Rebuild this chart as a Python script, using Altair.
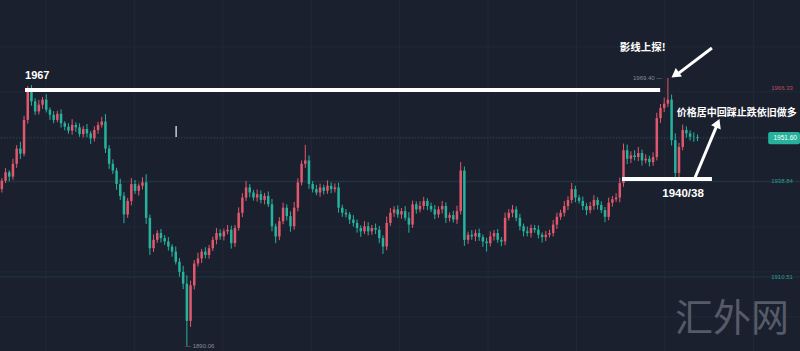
import altair as alt
import pandas as pd

# ---------------- data ----------------
first_open = 1936.5
closes = [
    1939.0, 1941.5, 1940.2, 1944.0, 1948.5, 1947.0, 1957.0, 1965.5, 1962.5, 1959.5,
    1961.5, 1963.0, 1960.0, 1958.5, 1957.0, 1958.8, 1956.0, 1955.0, 1953.8, 1955.5,
    1954.8, 1952.8, 1954.3, 1953.0, 1951.5, 1954.0, 1955.5, 1956.5, 1948.5, 1944.0,
    1942.0, 1938.0, 1934.5, 1929.0, 1933.0, 1938.0, 1936.0, 1937.5, 1938.5, 1928.0,
    1919.0, 1921.5, 1923.5, 1922.0, 1921.0, 1919.5, 1918.0, 1915.0, 1912.0, 1908.5,
    1897.5, 1908.0, 1914.5, 1916.0, 1918.0, 1917.0, 1919.0, 1921.5, 1923.5, 1922.5,
    1924.0, 1924.5, 1920.5, 1925.0, 1929.5, 1934.0, 1937.0, 1935.5, 1934.0, 1935.0,
    1933.3, 1934.5, 1932.0, 1925.5, 1922.5, 1927.0, 1931.0, 1928.5, 1925.5, 1931.0,
    1938.5, 1944.0, 1945.0, 1938.0, 1936.5, 1935.5, 1937.0, 1936.0, 1937.5, 1936.5,
    1937.0, 1931.0, 1929.5, 1929.0, 1927.5, 1926.5, 1925.0, 1924.0, 1925.5, 1924.0,
    1925.0, 1924.5, 1922.0, 1919.5, 1926.5, 1929.5, 1930.5, 1929.0, 1930.0, 1928.0,
    1926.0, 1932.0, 1930.5, 1931.5, 1933.0, 1931.5, 1930.5, 1929.0, 1930.5, 1931.5,
    1928.0, 1928.8, 1927.5, 1930.0, 1942.0, 1921.5, 1923.0, 1922.5, 1923.5, 1922.3,
    1921.0, 1920.5, 1922.5, 1923.5, 1921.5, 1921.0, 1928.0, 1929.5, 1930.5, 1928.0,
    1925.5, 1924.0, 1923.5, 1925.0, 1924.5, 1923.0, 1922.3, 1923.0, 1923.5, 1926.0,
    1928.3, 1929.5, 1931.5, 1933.3, 1936.5, 1934.0, 1933.0, 1931.5, 1930.3, 1931.5,
    1933.3, 1931.8, 1930.3, 1928.3, 1932.5, 1933.5, 1934.0, 1938.3, 1948.0, 1945.5,
    1946.5, 1946.0, 1947.2, 1945.0, 1945.5, 1944.5, 1946.0, 1957.5, 1960.5, 1961.8,
    1963.0, 1951.0, 1941.3, 1949.0, 1954.0, 1953.0, 1952.0, 1951.9, 1951.6,
]
upper_wicks = [
    0.8, 1.2, 0.6, 1.5, 1.0, 2.0, 1.2, 1.5, 1.8, 0.9,
    1.4, 0.8, 1.6, 0.7, 1.1, 0.9, 1.3, 0.6, 1.0, 1.7,
    0.8, 1.2, 0.9, 1.5, 0.7, 1.1, 0.9, 1.4, 2.2, 1.0,
    1.3, 0.8, 1.6, 1.1, 0.9, 1.8, 1.2, 0.7, 1.5, 2.4,
    1.0, 1.6, 0.8, 1.2, 0.9, 1.3, 0.7, 1.5, 1.1, 1.8,
    2.5, 1.4, 1.0, 1.7, 0.8, 1.3, 1.0, 0.9, 1.5, 1.1,
    0.8, 1.4, 1.2, 0.9, 1.6, 1.3, 1.9, 1.0, 0.8, 1.4,
    1.1, 0.9, 1.3, 1.6, 0.8, 1.2, 1.5, 1.0, 1.4, 1.7,
    1.2, 1.0, 4.6, 1.5, 0.9, 1.3, 1.1, 0.8, 1.6, 1.0,
    1.2, 1.4, 0.9, 1.1, 0.7, 1.3, 1.0, 0.8, 1.5, 1.2,
    0.9, 1.3, 1.1, 0.8, 1.9, 1.4, 1.0, 1.2, 0.9, 1.5,
    1.7, 1.1, 0.9, 1.4, 1.2, 0.8, 1.0, 1.3, 0.9, 1.5,
    1.1, 0.8, 1.3, 1.6, 2.5, 1.2, 0.9, 1.4, 1.0, 1.3,
    0.8, 1.1, 1.5, 0.9, 1.2, 0.8, 1.6, 1.1, 1.3, 0.9,
    1.2, 0.8, 1.4, 1.0, 0.9, 1.3, 0.7, 1.1, 1.0, 1.4,
    1.2, 0.9, 1.5, 1.1, 1.8, 1.0, 0.8, 1.3, 0.9, 1.2,
    1.4, 0.8, 1.1, 0.9, 1.5, 1.0, 1.3, 1.6, 2.0, 1.7,
    1.2, 1.5, 1.8, 1.0, 1.3, 0.9, 1.4, 1.6, 1.2, 1.8,
    6.4, 1.5, 2.0, 1.2, 1.6, 1.1, 0.9, 1.3, 0.8,
]
lower_wicks = [
    1.0, 0.7, 1.4, 0.9, 1.2, 1.6, 0.8, 1.1, 1.3, 1.0,
    0.9, 1.2, 0.8, 1.5, 1.0, 0.7, 1.3, 1.1, 0.9, 1.2,
    1.4, 0.8, 1.0, 1.2, 1.6, 0.9, 1.1, 0.8, 1.3, 1.5,
    1.0, 1.7, 1.2, 2.6, 1.0, 1.3, 0.9, 1.4, 1.1, 1.8,
    2.0, 1.1, 0.9, 1.3, 1.0, 1.2, 1.5, 0.8, 1.4, 1.6,
    7.4, 1.8, 1.2, 0.9, 1.4, 1.0, 1.1, 0.8, 1.3, 1.0,
    1.2, 0.9, 1.6, 1.1, 0.8, 1.3, 1.0, 1.4, 0.9, 1.2,
    1.0, 1.3, 0.8, 1.5, 2.0, 1.1, 0.9, 1.3, 1.6, 1.0,
    1.1, 0.9, 1.2, 1.4, 1.0, 0.8, 1.3, 1.1, 0.9, 1.2,
    1.0, 1.5, 1.2, 0.9, 1.3, 1.1, 1.4, 1.6, 0.8, 1.2,
    1.0, 1.3, 1.5, 2.2, 1.1, 0.9, 1.2, 1.0, 1.3, 0.8,
    2.4, 1.0, 1.3, 0.9, 1.1, 1.2, 0.8, 1.4, 1.0, 1.2,
    1.5, 1.1, 0.9, 1.3, 1.0, 1.8, 1.2, 1.0, 1.4, 1.1,
    1.6, 2.5, 1.0, 1.2, 0.9, 1.4, 1.1, 0.8, 1.3, 1.0,
    1.2, 1.5, 1.0, 1.3, 0.9, 1.1, 1.6, 1.2, 0.8, 1.0,
    1.3, 0.9, 1.1, 1.2, 1.0, 1.4, 0.8, 1.2, 1.5, 1.0,
    1.1, 1.3, 0.9, 1.6, 1.0, 1.2, 0.8, 1.4, 1.1, 1.6,
    1.3, 1.0, 1.2, 1.5, 0.9, 1.3, 1.1, 1.0, 1.4, 1.2,
    1.0, 1.6, 1.5, 1.2, 1.0, 1.3, 1.1, 1.4, 0.9,
]

grid_slots = [12.4, 36.3, 60.2, 84.1, 108.0, 131.9, 155.8, 179.7, 203.6]
grid_prices = [1978.6, 1965.3, 1951.9, 1938.6, 1925.3, 1912.0, 1898.7]
level_prices = [1938.84, 1910.51]
last_price = 1951.60
high_label = 1969.40
low_label = 1890.06
resistance = 1965.85   # "1967" line
support = 1939.5       # "1940/38" line

# ---------------- build table ----------------
opens = [first_open] + closes[:-1]
rows = []
for i, (o, c, u, l) in enumerate(zip(opens, closes, upper_wicks, lower_wicks)):
    rows.append(dict(slot=i + 0.5, open=o, close=c,
                     high=max(o, c) + u, low=min(o, c) - l,
                     dir="up" if c >= o else "down"))
df = pd.DataFrame(rows)

BG = "#1b202e"
RED = "#e0586c"
GREEN = "#26b29c"
GRID = "#222837"

xs = alt.Scale(domain=[0, 216.2], nice=False, zero=False)
ys = alt.Scale(domain=[1888.58, 1992.49], nice=False, zero=False)


def X(f):
    return alt.X(f, type="quantitative", scale=xs, axis=None)


def Y(f):
    return alt.Y(f, type="quantitative", scale=ys, axis=None)


color = alt.Color("dir:N", scale=alt.Scale(domain=["up", "down"], range=[RED, GREEN]), legend=None)

vgrid = alt.Chart(pd.DataFrame({"s": grid_slots})).mark_rule(color=GRID, strokeWidth=1).encode(x=X("s"))
hgrid = alt.Chart(pd.DataFrame({"p": grid_prices})).mark_rule(color=GRID, strokeWidth=1).encode(y=Y("p"))
levels = alt.Chart(pd.DataFrame({"p": level_prices})).mark_rule(
    color="#2a8f86", strokeWidth=1, opacity=0.22).encode(y=Y("p"))
lastline = alt.Chart(pd.DataFrame({"p": [last_price]})).mark_rule(
    color=GREEN, strokeWidth=1, opacity=0.3, strokeDash=[1, 2]).encode(y=Y("p"))

wicks = alt.Chart(df).mark_rule(strokeWidth=1).encode(x=X("slot"), y=Y("low"), y2="high", color=color)
bodies = alt.Chart(df).mark_rule(strokeWidth=2.5, strokeCap="butt").encode(
    x=X("slot"), y=Y("open"), y2="close", color=color)

# annotation lines
hlines = pd.DataFrame({
    "x1": [6.76, 168.1], "x2": [178.4, 192.4], "y": [resistance, support]})
hline_layer = alt.Chart(hlines).mark_rule(color="white", strokeWidth=4, strokeCap="butt").encode(
    x=X("x1"), x2="x2", y=Y("y"))

arrows = pd.DataFrame({
    "x1": [192.4, 187.8], "x2": [182.9, 193.6],
    "y1": [1978.3, 1939.8], "y2": [1970.4, 1955.0]})
arrow_layer = alt.Chart(arrows).mark_rule(color="white", strokeWidth=3).encode(
    x=X("x1"), x2="x2", y=Y("y1"), y2="y2")
heads = pd.DataFrame({"x": [182.8, 193.8], "y": [1970.6, 1955.6], "a": [234, 23]})
head_layer = alt.Chart(heads).mark_point(shape="triangle", filled=True, color="white",
                                         opacity=1, size=110).encode(
    x=X("x"), y=Y("y"), angle=alt.Angle("a:Q", scale=None))

cursor = alt.Chart(pd.DataFrame({"x": [47.6], "y1": [1955.2], "y2": [1951.9]})).mark_rule(
    color="#c9ccd3", strokeWidth=1.5).encode(x=X("x"), y=Y("y1"), y2="y2")


def txt(x, y, t, **kw):
    return alt.Chart(pd.DataFrame({"x": [x], "y": [y], "t": [t]})).mark_text(**kw).encode(
        x=X("x"), y=Y("y"), text="t:N")


LAT = "Liberation Sans"
CJK = "Noto Sans CJK SC"

texts = [
    txt(6.76, 1970.0, "1967", align="left", baseline="middle", font=LAT, fontSize=11,
        fontWeight="bold", color="white"),
    txt(184.6, 1935.2, "1940/38", align="center", baseline="middle", font=LAT, fontSize=11.5,
        fontWeight="bold", color="white"),
    txt(167.5, 1978.3, "影线上探!", align="left", baseline="middle", font=CJK, fontSize=10.5,
        fontWeight="bold", color="white"),
    txt(182.9, 1959.0, "价格居中回踩止跌依旧做多", align="left", baseline="middle", font=CJK,
        fontSize=10, fontWeight="bold", color="white"),
    txt(179.0, high_label, f"{high_label:.2f} —", align="right", baseline="middle", font=LAT,
        fontSize=6, color="#868b97"),
    txt(50.0, low_label, f"— {low_label:.2f}", align="left", baseline="middle", font=LAT,
        fontSize=6, color="#868b97"),
    txt(208.4, 1966.33, "1966.33", align="left", baseline="middle", font=LAT,
        fontSize=6, color="#b94e5e"),
    txt(208.4, level_prices[0], f"{level_prices[0]:.2f}", align="left", baseline="middle", font=LAT,
        fontSize=6, color="#2f9a90"),
    txt(208.4, level_prices[1], f"{level_prices[1]:.2f}", align="left", baseline="middle", font=LAT,
        fontSize=6, color="#2f9a90"),
    txt(197.8, 1897.8, "汇外网", align="center", baseline="middle", font=CJK, fontSize=38,
        fontWeight="normal", color="#555b68"),
]

tag = alt.Chart(pd.DataFrame({"x1": [207.6], "x2": [216.2], "y1": [1949.8], "y2": [1953.4]})).mark_rect(
    color=GREEN, cornerRadius=2).encode(x=X("x1"), x2="x2", y=Y("y1"), y2="y2")
tag_text = txt(212.2, last_price, f"{last_price:.2f}", align="center", baseline="middle", font=LAT,
               fontSize=6.5, color="white")

chart = alt.layer(
    vgrid, hgrid, levels, lastline, wicks, bodies, hline_layer, arrow_layer, head_layer, cursor,
    tag, tag_text, *texts
).properties(
    width=800, height=351, background=BG,
    autosize=alt.AutoSizeParams(type="none"), padding=0
).configure_view(stroke=None)

chart.save("out.html", embed_options={"renderer": "svg", "actions": False})
